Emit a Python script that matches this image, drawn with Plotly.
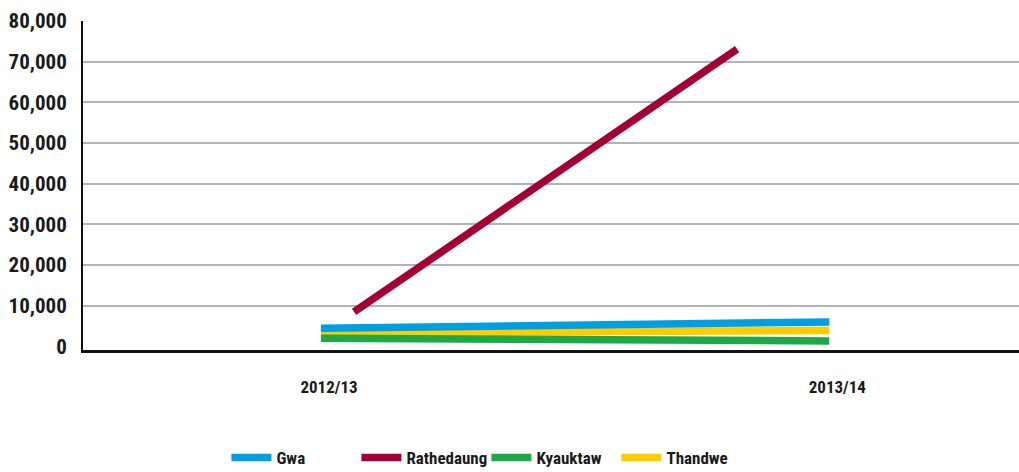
import plotly.graph_objects as go

years = ["2012/13", "2013/14"]
gwa = [4450, 6000]
rathedaung = [8460, 73100]
kyauktaw = [1990, 1330]
thandwe = [3220, 3910]
y_ticks = [0, 10000, 20000, 30000, 40000, 50000, 60000, 70000, 80000]
grid_ticks = y_ticks[1:]

FONT = "Roboto Condensed, Open Sans Condensed, sans-serif"
Y_RANGE = [-895, 80000]

fig = go.Figure()
fig.add_trace(go.Scatter(x=years, y=thandwe, name="Thandwe", mode="lines",
                         line=dict(color="#FFCC00", width=7.5), legendrank=4))
fig.add_trace(go.Scatter(x=years, y=gwa, name="Gwa", mode="lines",
                         line=dict(color="#009FE3", width=7.5), legendrank=1))
fig.add_trace(go.Scatter(x=years, y=kyauktaw, name="Kyauktaw", mode="lines",
                         line=dict(color="#1FA84A", width=7.5), legendrank=3))
fig.add_trace(go.Scatter(x=years, y=rathedaung, name="Rathedaung", mode="lines",
                         line=dict(color="#A50034", width=7.5), legendrank=2,
                         xaxis="x2", yaxis="y2"))

fig.update_layout(
    width=1019, height=472,
    margin=dict(l=83, r=0, t=21, b=122),
    paper_bgcolor="white", plot_bgcolor="white",
    font=dict(family=FONT, color="#1a1a1a", size=20, weight="bold"),
    showlegend=True,
    legend=dict(orientation="h", x=0.431, xanchor="center",
                yref="container", y=0.03, yanchor="middle",
                font=dict(size=17, family=FONT, weight="bold"), itemwidth=40,
                entrywidth=75, traceorder="normal", bgcolor="rgba(0,0,0,0)"),
    xaxis=dict(type="category", range=[-0.4682, 1.3732], showgrid=False,
               showline=True, linecolor="#111111", linewidth=3, mirror=False,
               zeroline=False, ticks="", automargin=False,
               ticklabelstandoff=20, ticklabelshift=8,
               tickfont=dict(size=17, family=FONT, weight="bold")),
    xaxis2=dict(type="category", overlaying="x", range=[-0.7076, 1.736],
                visible=False),
    yaxis=dict(range=Y_RANGE, tickvals=y_ticks, tickformat=",",
               showgrid=False,
               showline=True, linecolor="#111111", linewidth=2,
               zeroline=False, ticks="", ticklabelstandoff=10, automargin=False,
               tickfont=dict(size=21, family=FONT, weight="bold")),
    yaxis2=dict(range=Y_RANGE, tickvals=grid_ticks, overlaying="y", anchor="x2",
                showgrid=True, gridcolor="#b3b3b3", gridwidth=2,
                showticklabels=False, showline=False, zeroline=False, ticks=""),
)

fig.write_html("out.html", config={"displayModeBar": False},
               post_script="document.body.style.margin='0';document.body.style.overflow='hidden';")
